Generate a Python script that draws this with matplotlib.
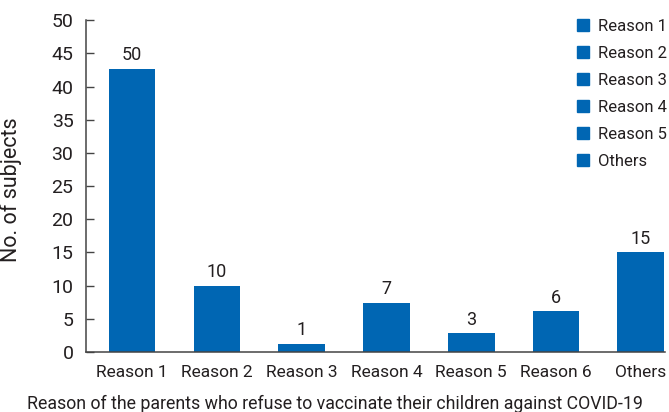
import matplotlib
matplotlib.use('Agg')
import matplotlib.pyplot as plt
import numpy as np

plt.rcParams['font.family'] = ['Roboto', 'DejaVu Sans']

categories = ['Reason 1', 'Reason 2', 'Reason 3', 'Reason 4', 'Reason 5', 'Reason 6', 'Others']
heights = [42.7, 10, 1.25, 7.4, 2.8, 6.15, 15]   # bar heights as drawn
labels = ['50', '10', '1', '7', '3', '6', '15']      # numbers printed over the bars
legend_names = ['Reason 1', 'Reason 2', 'Reason 3', 'Reason 4', 'Reason 5', 'Others']

blue = '#0066b3'
txt = '#231f20'
axcol = '#444444'

fig = plt.figure(figsize=(6.69, 4.12), dpi=100)
ax = fig.add_axes([0.1285, 0.1456, 0.866, 0.8055])

x = np.arange(len(categories))
bars = ax.bar(x, heights, width=0.55, color=blue, zorder=2)
for b, lab in zip(bars, labels):
    ax.text(b.get_x() + b.get_width() / 2, b.get_height() + 0.7, lab,
            ha='center', va='bottom', fontsize=13, color=txt)

ax.set_xlim(-0.545, 6.29)
ax.set_ylim(0, 50)
ax.set_yticks(range(0, 51, 5))
ax.set_xticks(x)
ax.set_xticklabels(categories)
ax.tick_params(axis='x', length=0, pad=9, labelsize=12.5, colors=txt)
ax.tick_params(axis='y', direction='in', length=6, width=1, pad=9, labelsize=14, colors=txt)
ax.tick_params(axis='y', color=axcol)

for s in ['top', 'right']:
    ax.spines[s].set_visible(False)
for s in ['left', 'bottom']:
    ax.spines[s].set_color(axcol)
    ax.spines[s].set_linewidth(1.1)

ax.set_ylabel('No. of subjects', fontsize=15.5, color=txt)
ax.yaxis.set_label_coords(-0.11, 0.49)
ax.set_xlabel('Reason of the parents who refuse to vaccinate their children against COVID-19',
              fontsize=12.75, color=txt)
ax.xaxis.set_label_coords(0.43, -0.13)

handles = [plt.Rectangle((0, 0), 1, 1, color=blue) for _ in legend_names]
ax.legend(handles, legend_names, loc='upper left', bbox_to_anchor=(0.848, 1.003),
          frameon=False, fontsize=12, borderpad=0, borderaxespad=0,
          handlelength=0.72, handleheight=0.72, handletextpad=0.55,
          labelspacing=0.72, labelcolor=txt)

fig.savefig('out.png', dpi=100)
